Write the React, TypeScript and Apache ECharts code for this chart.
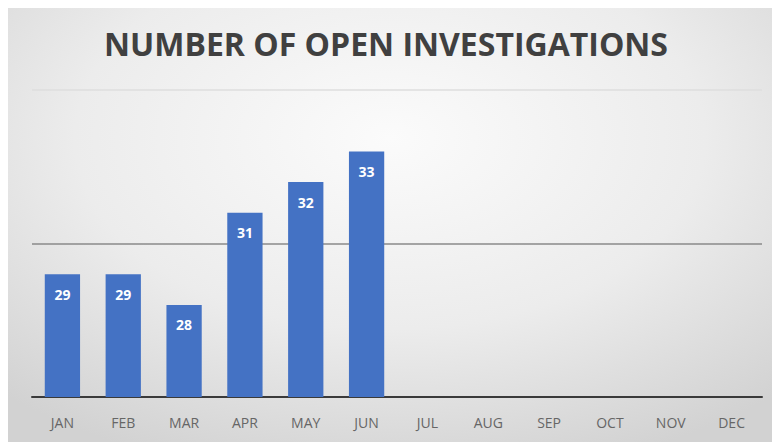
import React, { useEffect, useRef } from "react";
import * as echarts from "echarts";

const months = ["JAN", "FEB", "MAR", "APR", "MAY", "JUN", "JUL", "AUG", "SEP", "OCT", "NOV", "DEC"];
const openInvestigations: (number | null)[] = [29, 29, 28, 31, 32, 33, null, null, null, null, null, null];
const yMin = 25;
const yMax = 35;
const yInterval = 5;
const titleText = "NUMBER OF OPEN INVESTIGATIONS";

export default function App() {
  const ref = useRef<HTMLDivElement>(null);
  useEffect(() => {
    document.body.style.margin = "0";
    if (!ref.current) return;
    const chart = echarts.init(ref.current, null, { renderer: "svg" });
    chart.setOption({
      animation: false,
      title: {
        text: titleText,
        left: "center",
        top: 22,
        textStyle: { fontFamily: "Open Sans", fontWeight: "bold", fontSize: 32, color: "#404040" },
      },
      grid: { left: 32, right: 10, top: 90, bottom: 45 },
      xAxis: {
        type: "category",
        data: months,
        axisLine: { show: true, lineStyle: { color: "#3a3a3a", width: 2 } },
        axisTick: { show: false },
        axisLabel: { color: "#666666", fontFamily: "Open Sans", fontSize: 14, margin: 18 },
      },
      yAxis: {
        type: "value",
        min: yMin,
        max: yMax,
        interval: yInterval,
        axisLabel: { show: false },
        axisLine: { show: false },
        axisTick: { show: false },
        splitLine: { show: true, lineStyle: { color: ["transparent", "#8a8a8a", "#dedede"], width: 1.5 } },
      },
      series: [
        {
          type: "bar",
          data: openInvestigations,
          barCategoryGap: "42%",
          itemStyle: { color: "#4472C4" },
          label: {
            show: true,
            position: "insideTop",
            distance: 13,
            color: "#ffffff",
            fontWeight: "bold",
            fontFamily: "Open Sans",
            fontSize: 14,
          },
        },
      ],
    });
    return () => chart.dispose();
  }, []);
  return (
    <div
      style={{
        width: 772,
        height: 442,
        position: "relative",
        background: "#ffffff",
      }}
    >
      <div
        style={{
          position: "absolute",
          left: 8,
          top: 8,
          right: 0,
          bottom: 0,
          background: "radial-gradient(ellipse 75% 80% at 50% 30%, #fbfbfb 0%, #ececec 55%, #d2d2d2 100%)",
        }}
      />
      <div ref={ref} style={{ position: "absolute", left: 0, top: 0, width: 772, height: 442 }} />
    </div>
  );
}
